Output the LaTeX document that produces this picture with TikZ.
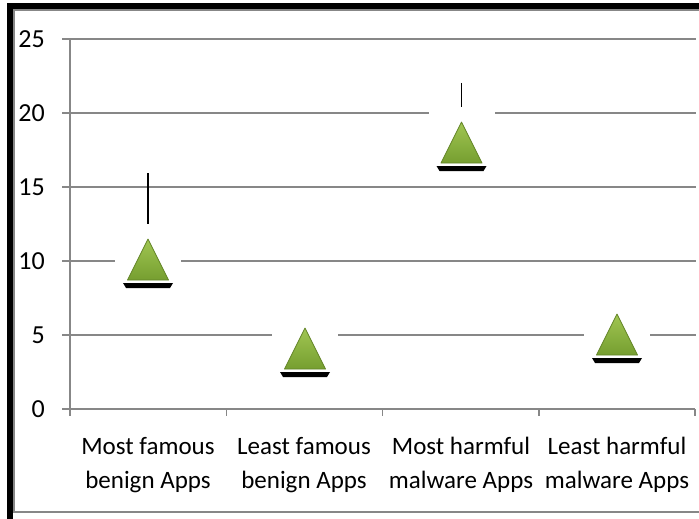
\documentclass[tikz,border=0pt]{standalone}
\usepackage{fontspec}
\setmainfont{Carlito}
\begin{document}
\begin{tikzpicture}[x=1pt,y=-1pt,
  chartline/.style={draw=gridgray,line width=1.5pt},
  markbox/.style={fill=white,draw=none,minimum width=66pt,minimum height=66pt,inner sep=0pt},
  hiline/.style={draw=black,line width=1.6pt},
  ylab/.style={anchor=east,inner sep=0pt,font=\fontsize{26}{30}\selectfont},
  catlab/.style={anchor=base,align=center,inner sep=0pt,font=\fontsize{25}{34}\selectfont}]
\definecolor{gridgray}{RGB}{135,135,135}
\definecolor{trilight}{RGB}{160,198,82}
\definecolor{tridark}{RGB}{118,158,48}
\definecolor{triedge}{RGB}{98,132,38}
\useasboundingbox (0,0) rectangle (699,519);
% frame: heavy black edge on the left and top, thin gray border inside
\fill[black] (6.5,3.5) rectangle (699,9.3);
\fill[black] (6.5,3.5) rectangle (13,519);
\draw[chartline] (699,10) -- (14,10) -- (14,512) -- (699,512);
% horizontal gridlines
\foreach \v in {5,10,15,20,25} {
  \draw[chartline] (62,409-14.8*\v) -- (696,409-14.8*\v);
}
% axes and ticks
\draw[chartline] (62,409) -- (695,409);
\draw[chartline] (70,39) -- (70,409);
\foreach \tx in {70,226.25,382.5,538.75,695} {
  \draw[chartline] (\tx,409) -- (\tx,416);
}
% y labels
\foreach \v in {0,5,10,15,20,25} {
  \node[ylab] (y\v) at (45,409-14.8*\v) {\v};
}
% category labels (base anchor sits on the second line)
\node[catlab] (c1) at (148,488) {Most famous\\benign Apps};
\node[catlab] (c2) at (304,488) {Least famous\\benign Apps};
\node[catlab] (c3) at (461,488) {Most harmful\\malware Apps};
\node[catlab] (c4) at (617,488) {Least harmful\\malware Apps};
% high-low lines
\coordinate (h1) at (148,173);
\coordinate (h3) at (461.5,83);
% markers: white backing, dark base bar, green triangle
\foreach \n/\cx/\cy in {1/148/257, 2/305/346, 3/461.5/140, 4/617/332} {
  \node[markbox] (m\n) at (\cx,\cy) {};
  \begin{scope}[shift={(m\n.center)}]
    \fill[black] (-25,26) -- (25,26) -- (22,31) -- (-22,31) -- cycle;
    \shade[top color=trilight,bottom color=tridark,draw=triedge,line width=0.8pt,line join=round]
      (0,-18) -- (20.5,23) -- (-20.5,23) -- cycle;
  \end{scope}
}
\draw[hiline] (h1) -- (m1.north);
\draw[hiline] (h3) -- (m3.north);
\end{tikzpicture}
\end{document}
